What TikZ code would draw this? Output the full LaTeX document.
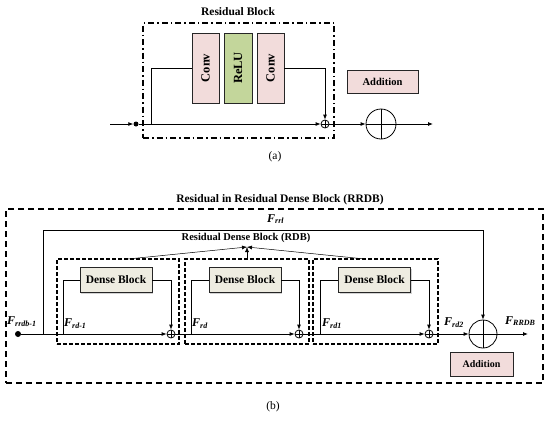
\documentclass[tikz,border=0pt]{standalone}
\usepackage{fontspec}
\setmainfont{Liberation Serif}
\usetikzlibrary{arrows.meta,shadows}
\definecolor{pinkc}{HTML}{F2DCDB}
\definecolor{greenc}{HTML}{C3D69B}
\definecolor{beigec}{HTML}{EEECE1}
\tikzset{
  every node/.style={inner sep=0pt},
  blk/.style={draw=black!85, line width=0.8pt, drop shadow={shadow xshift=1.2pt, shadow yshift=-1.2pt, opacity=0.35}},
  dashdotbox/.style={draw, line width=1.1pt, dash pattern=on 6pt off 3pt on 1.5pt off 3pt},
  outerbox/.style={draw, line width=1.3pt, dash pattern=on 6pt off 4pt},
  rdbbox/.style={draw, line width=1.1pt, dash pattern=on 4pt off 2pt},
  oplus/.style={circle, draw, line width=0.8pt, minimum size=#1, path picture={\draw[line width=0.8pt] (path picture bounding box.north) -- (path picture bounding box.south) (path picture bounding box.west) -- (path picture bounding box.east);}},
  conn/.style={line width=0.8pt},
  arr/.style={line width=0.8pt, -{Latex[length=5pt,width=4pt]}},
  bf/.style={font=\fontsize{11.5}{13}\selectfont\bfseries},
  vbf/.style={font=\fontsize{12.5}{14}\selectfont\bfseries},
  lab/.style={font=\fontsize{12}{14}\selectfont\bfseries\itshape, anchor=west},
}
\begin{document}
\begin{tikzpicture}[x=1pt,y=-1pt]
\useasboundingbox (0,0) rectangle (550,421);
% ---------------- (a)
\node[bf] (rbt) at (238,12) {Residual Block};
\node[dashdotbox, minimum width=191pt, minimum height=115pt] (rbox) at (238.5,80.5) {};
\node[blk, fill=pinkc, minimum width=27pt, minimum height=70pt, vbf] (c1) at (205.5,68) {\rotatebox{90}{Conv}};
\node[blk, fill=greenc, minimum width=28pt, minimum height=70pt, vbf] (relu) at (238,68) {\rotatebox{90}{ReLU}};
\node[blk, fill=pinkc, minimum width=27pt, minimum height=70pt, vbf] (c2) at (270.5,68) {\rotatebox{90}{Conv}};
\coordinate (ina) at (110,124);
\node[circle, fill, minimum size=5pt] (dota) at (136,124) {};
\node[oplus=8pt] (spa) at (325,124) {};
\node[oplus=30pt] (bpa) at (381,124) {};
\coordinate (outa) at (433,124);
\node[blk, fill=pinkc, minimum width=71pt, minimum height=23pt, font=\fontsize{10.5}{12}\selectfont\bfseries] (adda) at (382.5,81.5) {Addition};
\coordinate (bra) at (151,124);
\draw[arr] (ina) -- (dota);
\draw[arr] (dota) -- (spa);
\draw[conn] (bra) |- (c1.west);
\draw[arr] (c2.east) -| (spa.north);
\draw[arr] (spa) -- (bpa);
\draw[arr] (bpa) -- (outa);
\node[font=\fontsize{11.5}{13}\selectfont] (la) at (275,157) {(a)};
% ---------------- (b)
\node[bf] (rrdbt) at (280,200) {Residual in Residual Dense Block (RRDB)};
\node[outerbox, minimum width=537pt, minimum height=174pt] (obox) at (274.5,296) {};
\node[rdbbox, minimum width=122pt, minimum height=85pt] (r1) at (118,301.5) {};
\node[rdbbox, minimum width=124pt, minimum height=85pt] (r2) at (247,301.5) {};
\node[rdbbox, minimum width=125pt, minimum height=85pt] (r3) at (375.5,301.5) {};
\node[blk, fill=beigec, minimum width=72pt, minimum height=25pt, bf] (d1) at (116,280) {Dense Block};
\node[blk, fill=beigec, minimum width=72pt, minimum height=25pt, bf] (d2) at (245,280) {Dense Block};
\node[blk, fill=beigec, minimum width=72pt, minimum height=25pt, bf] (d3) at (374.5,280) {Dense Block};
\node[circle, fill, minimum size=6pt] (dotb) at (18,334) {};
\node[oplus=8pt] (s1) at (171,334) {};
\node[oplus=8pt] (s2) at (299,334) {};
\node[oplus=8pt] (s3) at (429,334) {};
\node[oplus=28pt] (bpb) at (483,334) {};
\coordinate (outb) at (528,334);
\coordinate (rrlc) at (43,334);
\coordinate (b1) at (63,334);
\coordinate (b2) at (191,334);
\coordinate (b3) at (320,334);
\coordinate (rrltop) at (483,230);
\draw[arr] (dotb) -- (s1);
\draw[arr] (s1) -- (s2);
\draw[arr] (s2) -- (s3);
\draw[arr] (s3) -- (bpb);
\draw[arr] (bpb) -- (outb);
\draw[conn] (b1) |- (d1.west);
\draw[conn] (b2) |- (d2.west);
\draw[conn] (b3) |- (d3.west);
\draw[arr] (d1.east) -| (s1.north);
\draw[arr] (d2.east) -| (s2.north);
\draw[arr] (d3.east) -| (s3.north);
\draw[arr] (rrlc) |- (rrltop) -- (bpb.north);
% RDB label and pointers
\node[font=\fontsize{10.5}{12}\selectfont\bfseries] (rdbl) at (246,238) {Residual Dense Block (RDB)};
\coordinate (tip) at (247,247);
\coordinate (p1) at (128,259);
\coordinate (p2) at (247,259);
\coordinate (p3) at (365,259);
\draw[line width=0.5pt, -{Latex[length=5pt,width=4pt]}] (p1) -- (tip);
\draw[line width=0.5pt, -{Latex[length=5pt,width=4pt]}] (p2) -- (tip);
\draw[line width=0.5pt, -{Latex[length=5pt,width=4pt]}] (p3) -- (tip);
% F labels
\node[lab] (f0) at (7,322) {F\textsubscript{rrdb-1}};
\node[lab] (f1) at (64,324) {F\textsubscript{rd-1}};
\node[lab] (f2) at (192,324) {F\textsubscript{rd}};
\node[lab] (f3) at (322,324) {F\textsubscript{rd1}};
\node[lab] (f4) at (444,323) {F\textsubscript{rd2}};
\node[lab] (f5) at (505,321) {F\textsubscript{RRDB}};
\node[lab] (f6) at (267,219) {F\textsubscript{rrl}};
\node[blk, fill=pinkc, minimum width=63pt, minimum height=24pt, font=\fontsize{10}{12}\selectfont\bfseries] (addb) at (481.5,364) {Addition};
\node[font=\fontsize{11.5}{13}\selectfont] (lb) at (273,407) {(b)};
\end{tikzpicture}
\end{document}
